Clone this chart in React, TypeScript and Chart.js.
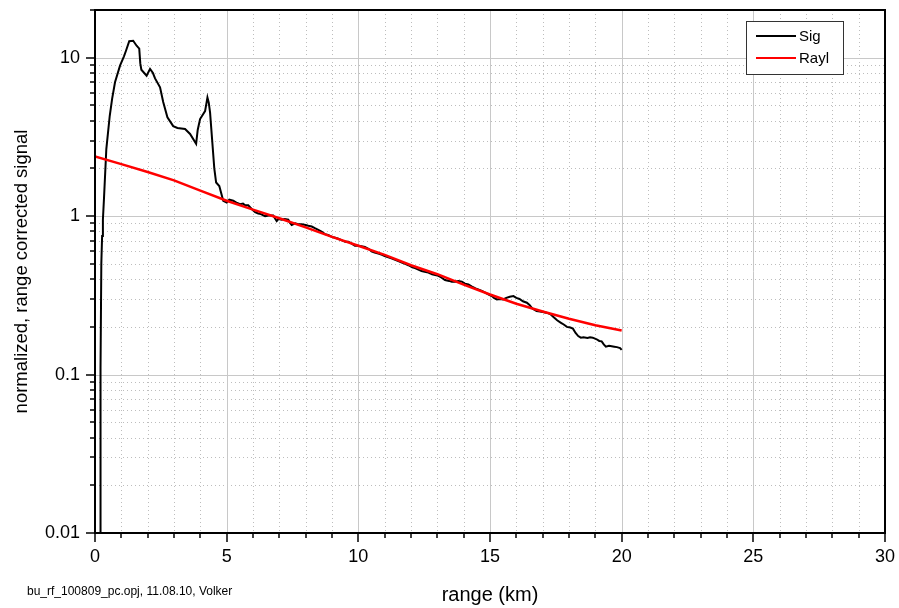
import React, { useEffect, useRef } from "react";
import { Chart, registerables } from "chart.js";

Chart.register(...registerables);

// Lidar signal profile: range (km) and normalized, range corrected signal
const sigRange = [
  0.19, 0.2, 0.22, 0.24, 0.27, 0.3, 0.34, 0.43, 0.56, 0.65, 0.76, 0.95, 1.1, 1.18, 1.3, 1.45, 1.58, 1.68,
  1.72, 1.76, 1.96, 2.09, 2.2, 2.28, 2.47, 2.59, 2.75, 2.97, 3.13, 3.42, 3.61, 3.84, 3.9, 3.99, 4.18, 4.27,
  4.32, 4.37, 4.45, 4.53, 4.6, 4.72, 4.87,
  5.0, 5.1, 5.25, 5.4, 5.51, 5.62, 5.7, 5.82, 5.95, 6.08, 6.2, 6.3, 6.46, 6.6, 6.77, 6.85, 6.9, 6.97,
  7.09, 7.2, 7.34, 7.4, 7.47, 7.6, 7.72, 7.85, 8.0, 8.1, 8.23, 8.35, 8.48, 8.6, 8.73, 8.85, 9.0, 9.12,
  9.24, 9.4, 9.5, 9.62, 9.75, 9.87, 10.0, 10.12, 10.25, 10.4, 10.5, 10.62, 10.76, 10.9, 11.0, 11.14,
  11.28, 11.4, 11.52, 11.65, 11.78, 11.9, 12.05, 12.15, 12.28, 12.4, 12.52, 12.66, 12.8, 12.92, 13.04,
  13.15, 13.29, 13.45, 13.55, 13.67, 13.8, 13.93, 14.05, 14.18, 14.3, 14.45, 14.55, 14.69, 14.8, 14.95,
  15.07, 15.15, 15.26, 15.38, 15.5, 15.62, 15.75, 15.89, 16.0, 16.12, 16.25, 16.4, 16.5, 16.62, 16.77,
  16.9, 17.05, 17.18, 17.3, 17.42, 17.55, 17.68, 17.8, 17.92, 18.05, 18.15, 18.25, 18.35, 18.45, 18.55,
  18.7, 18.8, 18.9, 19.05, 19.15, 19.24, 19.32, 19.4, 19.52, 19.62, 19.72, 19.82, 19.94, 20.0,
];
const sigValue = [
  0.001, 0.09, 0.11, 0.5, 0.75, 0.95, 1.28, 2.65, 4.3, 5.5, 7.0, 8.9, 10.2, 11.1, 12.7, 12.8, 11.9, 11.4,
  9.2, 8.4, 7.7, 8.5, 8.0, 7.4, 6.5, 5.25, 4.2, 3.7, 3.6, 3.55, 3.3, 2.86, 3.5, 4.1, 4.6, 5.6,
  5.2, 4.5, 3.0, 2.0, 1.63, 1.55, 1.25,
  1.22, 1.27, 1.25, 1.21, 1.19, 1.2, 1.17, 1.17, 1.11, 1.06, 1.04, 1.03, 1.0, 1.01, 1.01, 0.96, 0.93, 0.96,
  0.95, 0.96, 0.95, 0.91, 0.88, 0.9, 0.89, 0.89, 0.88, 0.87, 0.86, 0.84, 0.82, 0.8, 0.77, 0.76, 0.74, 0.73,
  0.72, 0.7, 0.69, 0.69, 0.67, 0.65, 0.65, 0.645, 0.64, 0.62, 0.6, 0.59, 0.58, 0.57, 0.56, 0.55,
  0.54, 0.53, 0.52, 0.51, 0.5, 0.49, 0.475, 0.47, 0.46, 0.45, 0.445, 0.44, 0.43, 0.425, 0.42,
  0.41, 0.395, 0.39, 0.385, 0.385, 0.39, 0.386, 0.375, 0.37, 0.36, 0.35, 0.345, 0.337, 0.33, 0.32,
  0.313, 0.305, 0.298, 0.3, 0.298, 0.305, 0.31, 0.313, 0.305, 0.3, 0.29, 0.284, 0.275, 0.26, 0.252,
  0.25, 0.247, 0.245, 0.24, 0.23, 0.22, 0.213, 0.207, 0.2, 0.198, 0.195, 0.183, 0.175, 0.171, 0.172,
  0.17, 0.172, 0.171, 0.167, 0.163, 0.162, 0.155, 0.15, 0.152, 0.151, 0.15, 0.149, 0.147, 0.143,
];

// Rayleigh reference profile
const raylRange = [0, 1, 2, 3, 4, 5, 6, 7, 8, 9, 10, 11, 12, 13, 14, 15, 16, 17, 18, 19, 20];
const raylValue = [
  2.38, 2.13, 1.9, 1.68, 1.45, 1.25, 1.1, 0.97, 0.85, 0.74, 0.65, 0.57, 0.49, 0.43, 0.37, 0.32, 0.28,
  0.25, 0.225, 0.205, 0.19,
];

const seriesLabels = ["Sig", "Rayl"];
const seriesColors = ["#000000", "#ff0000"];

const xTickValues = [0, 5, 10, 15, 20, 25, 30];
const yTickValues = [0.01, 0.1, 1, 10];
const yTickLabels = ["0.01", "0.1", "1", "10"];

const footnote = "bu_rf_100809_pc.opj, 11.08.10, Volker";

const FONT = "'Liberation Sans', Arial, sans-serif";

const isDecade = (v: number) => Math.abs(Math.log10(v) - Math.round(Math.log10(v))) < 1e-6;

// Grid, frame, outer ticks, legend box and footnote
const decorations = {
  id: "decorations",
  beforeDatasetsDraw(chart: any) {
    const { ctx, chartArea: a, scales } = chart;
    const xs = scales.x;
    const ys = scales.y;
    ctx.save();
    // minor dotted grid
    ctx.strokeStyle = "#bdbdbd";
    ctx.lineWidth = 1;
    ctx.setLineDash([1, 3]);
    for (let v = xs.min + 1; v < xs.max; v += 1) {
      if (v % 5 === 0) continue;
      const px = Math.round(xs.getPixelForValue(v)) + 0.5;
      ctx.beginPath();
      ctx.moveTo(px, a.top);
      ctx.lineTo(px, a.bottom);
      ctx.stroke();
    }
    for (const d of yTickValues) {
      for (let m = 2; m <= 9; m++) {
        const v = d * m;
        if (v >= ys.max) continue;
        const py = Math.round(ys.getPixelForValue(v)) + 0.5;
        ctx.beginPath();
        ctx.moveTo(a.left, py);
        ctx.lineTo(a.right, py);
        ctx.stroke();
      }
    }
    // major solid grid
    ctx.setLineDash([]);
    ctx.strokeStyle = "#c8c8c8";
    for (const v of xTickValues) {
      if (v === xs.min || v === xs.max) continue;
      const px = Math.round(xs.getPixelForValue(v)) + 0.5;
      ctx.beginPath();
      ctx.moveTo(px, a.top);
      ctx.lineTo(px, a.bottom);
      ctx.stroke();
    }
    for (const v of yTickValues) {
      if (v <= ys.min) continue;
      const py = Math.round(ys.getPixelForValue(v)) + 0.5;
      ctx.beginPath();
      ctx.moveTo(a.left, py);
      ctx.lineTo(a.right, py);
      ctx.stroke();
    }
    ctx.restore();
  },
  afterDraw(chart: any) {
    const { ctx, chartArea: a, scales } = chart;
    const xs = scales.x;
    const ys = scales.y;
    ctx.save();
    // frame
    ctx.strokeStyle = "#000";
    ctx.lineWidth = 2;
    ctx.strokeRect(a.left, a.top, a.right - a.left, a.bottom - a.top);
    // bottom ticks
    ctx.lineWidth = 1.5;
    for (let v = xs.min; v <= xs.max; v += 1) {
      const px = Math.round(xs.getPixelForValue(v));
      const len = v % 5 === 0 ? 9 : 5;
      ctx.beginPath();
      ctx.moveTo(px, a.bottom);
      ctx.lineTo(px, a.bottom + len);
      ctx.stroke();
    }
    // left ticks
    for (const d of yTickValues) {
      for (let m = 1; m <= 9; m++) {
        const v = d * m;
        if (v > ys.max) continue;
        const py = Math.round(ys.getPixelForValue(v));
        const len = m === 1 ? 9 : 5;
        ctx.beginPath();
        ctx.moveTo(a.left - len, py);
        ctx.lineTo(a.left, py);
        ctx.stroke();
      }
    }
    // legend
    const bx = 746;
    const by = 21;
    const bw = 97;
    const bh = 53;
    ctx.fillStyle = "#fff";
    ctx.fillRect(bx, by, bw, bh);
    ctx.strokeStyle = "#333";
    ctx.lineWidth = 1;
    ctx.strokeRect(bx + 0.5, by + 0.5, bw, bh);
    ctx.font = `15px ${FONT}`;
    ctx.textBaseline = "middle";
    ctx.textAlign = "left";
    chart.data.datasets.forEach((ds: any, i: number) => {
      const ly = by + 15 + i * 22;
      ctx.strokeStyle = ds.borderColor;
      ctx.lineWidth = 2;
      ctx.beginPath();
      ctx.moveTo(bx + 10, ly);
      ctx.lineTo(bx + 50, ly);
      ctx.stroke();
      ctx.fillStyle = "#000";
      ctx.fillText(ds.label, bx + 53, ly + 1);
    });
    // footnote
    ctx.font = `12px ${FONT}`;
    ctx.fillStyle = "#000";
    ctx.textBaseline = "middle";
    ctx.fillText(footnote, 27, 592);
    ctx.restore();
  },
};

export default function App() {
  const canvasRef = useRef<HTMLCanvasElement | null>(null);

  useEffect(() => {
    const canvas = canvasRef.current;
    if (!canvas) return;
    const chart = new Chart(canvas, {
      type: "line",
      data: {
        datasets: [
          {
            label: seriesLabels[0],
            data: sigRange.map((r, i) => ({ x: r, y: sigValue[i] })),
            borderColor: seriesColors[0],
            borderWidth: 2,
            pointRadius: 0,
            tension: 0,
            order: 1,
          },
          {
            label: seriesLabels[1],
            data: raylRange.map((r, i) => ({ x: r, y: raylValue[i] })),
            borderColor: seriesColors[1],
            borderWidth: 2.5,
            pointRadius: 0,
            tension: 0,
            order: 0,
          },
        ],
      },
      plugins: [decorations],
      options: {
        animation: false,
        responsive: false,
        devicePixelRatio: 1,
        layout: { padding: { top: 10, right: 14, left: 0, bottom: 0 } },
        plugins: { legend: { display: false }, tooltip: { enabled: false } },
        scales: {
          x: {
            type: "linear",
            min: 0,
            max: 30,
            grid: { display: false, drawTicks: false },
            border: { display: false },
            ticks: {
              stepSize: 5,
              padding: 13,
              color: "#000",
              font: { family: FONT, size: 18 },
              maxRotation: 0,
            },
            title: {
              display: true,
              text: "range (km)",
              color: "#000",
              font: { family: FONT, size: 20 },
              padding: { top: 0, bottom: 1 },
            },
            afterFit: (scale: any) => {
              scale.height = 75;
              scale.paddingLeft = 0;
              scale.paddingRight = 0;
            },
          },
          y: {
            type: "logarithmic",
            min: 0.01,
            max: 20,
            grid: { display: false, drawTicks: false },
            border: { display: false },
            afterBuildTicks: (scale: any) => {
              scale.ticks = yTickValues.map((v) => ({ value: v }));
            },
            ticks: {
              autoSkip: false,
              padding: 15,
              color: "#000",
              font: { family: FONT, size: 18 },
              callback: (value: any) => {
                const v = Number(value);
                if (!isDecade(v)) return "";
                const idx = yTickValues.findIndex((t) => Math.abs(Math.log10(t) - Math.log10(v)) < 1e-6);
                return idx >= 0 ? yTickLabels[idx] : "";
              },
            },
            title: {
              display: true,
              text: "normalized, range corrected signal",
              color: "#000",
              font: { family: FONT, size: 18.5 },
              padding: { top: 11, bottom: 0 },
            },
            afterFit: (scale: any) => {
              scale.width = 95;
              scale.paddingTop = 0;
              scale.paddingBottom = 0;
            },
          },
        },
      },
    });
    return () => chart.destroy();
  }, []);

  return (
    <div style={{ position: "absolute", left: 0, top: 0, width: 899, height: 608, background: "#fff" }}>
      <canvas ref={canvasRef} width={899} height={608} />
    </div>
  );
}
